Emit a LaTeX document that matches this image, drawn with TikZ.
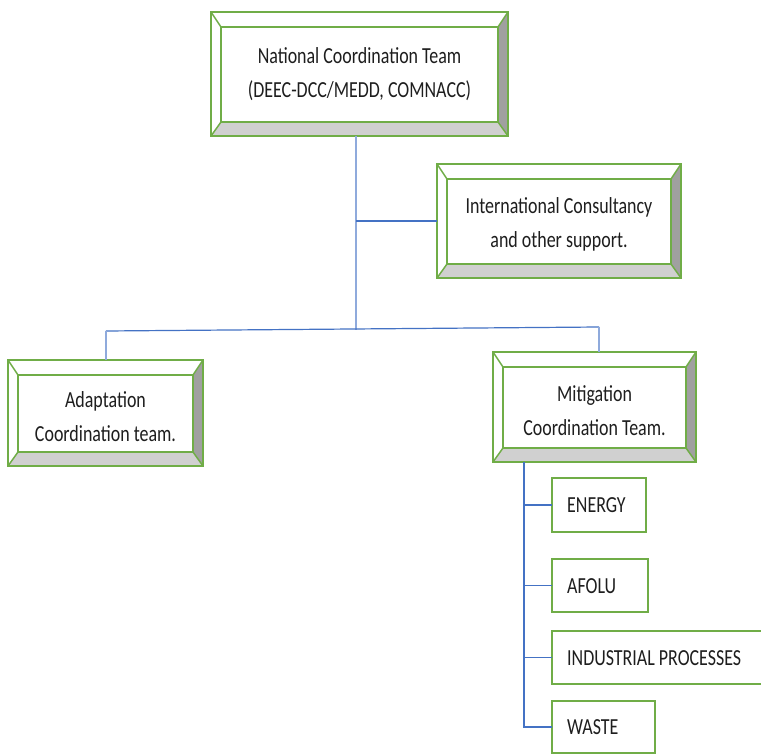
\documentclass[tikz,border=0pt]{standalone}
\usepackage{fontspec}
\setmainfont{Carlito}[FakeStretch=0.78]
\usetikzlibrary{calc}
\definecolor{gr}{HTML}{70AD47}
\definecolor{bl}{HTML}{4472C4}
\definecolor{lbl}{HTML}{8FAADC}
\definecolor{bevR}{HTML}{A0A0A0}
\definecolor{bevB}{HTML}{D0D0D0}
\definecolor{txt}{HTML}{1E1E1E}
\tikzset{
  outerbox/.style={draw=gr, line width=2pt, fill=white, inner sep=0pt, outer sep=0pt, anchor=north west},
  boxtext/.style={inner sep=0pt, align=center, text=txt, font=\fontsize{23}{34}\selectfont},
  subbox/.style={draw=gr, line width=1.6pt, fill=white, inner sep=0pt, outer sep=0pt, anchor=north west},
  subtext/.style={inner sep=0pt, anchor=west, text=txt, text height=15pt, text depth=0pt, font=\fontsize{23}{28}\selectfont},
  lightline/.style={draw=lbl, line width=1.3pt},
  darkline/.style={draw=bl, line width=1.2pt},
  innerline/.style={draw=gr, line width=1.5pt}
}
\newcommand\bevelbox[7]{%
  \node[outerbox, minimum width={(#4-#2)*1pt}, minimum height={(#5-#3)*1pt}] (#1) at (#2,#3) {};
  \fill[bevR] (#1.north east) -- ++(-10,15) -- ($(#1.south east)+(-10,-14)$) -- (#1.south east) -- cycle;
  \fill[bevB] (#1.south west) -- ($(#1.south west)+(10,-14)$) -- ($(#1.south east)+(-10,-14)$) -- (#1.south east) -- cycle;
  \draw[innerline] ($(#1.north west)+(10,15)$) rectangle ($(#1.south east)+(-10,-14)$);
  \draw[innerline] (#1.north west) -- ++(10,15) (#1.north east) -- ++(-10,15)
     (#1.south west) -- ++(10,-14) (#1.south east) -- ++(-10,-14);
  \draw[gr, line width=2pt] (#1.north west) rectangle (#1.south east);
  \node[boxtext] (#1-t) at ($(#1.center)+(0,#7)$) {#6\vphantom{(}};
}
\begin{document}
\begin{tikzpicture}[x=1pt, y=-1pt]
\useasboundingbox (0,0) rectangle (761,754);
\clip (0,0) rectangle (761,754);
\fill[white] (0,0) rectangle (761,754);

% coordinates for junctions
\coordinate (j1) at (356,330);
\coordinate (jL) at (106,331);
\coordinate (jR) at (599,327);
\coordinate (t) at (524,0);

% boxes
\bevelbox{nat}{211}{12}{508}{136}{National Coordination Team\\(DEEC-DCC/MEDD, COMNACC)}{0}
\bevelbox{intl}{437}{164}{681}{278}{International Consultancy\\and other support.}{3}
\bevelbox{adapt}{8}{360}{203}{466}{Adaptation\\Coordination team.}{5}
\bevelbox{mit}{493}{352}{696}{462}{Mitigation\\Coordination Team.}{5}

\node[subbox, minimum width=94pt, minimum height=54pt] (energy) at (552,478) {};
\node[subtext] (energy-t) at ($(energy.west)+(15,0)$) {ENERGY};
\node[subbox, minimum width=96pt, minimum height=53pt] (afolu) at (552,559) {};
\node[subtext] (afolu-t) at ($(afolu.west)+(15,0)$) {AFOLU};
\node[subbox, minimum width=220pt, minimum height=53pt] (indus) at (552,631) {};
\node[subtext] (indus-t) at ($(indus.west)+(15,0)$) {INDUSTRIAL PROCESSES};
\node[subbox, minimum width=103pt, minimum height=52pt] (waste) at (552,701) {};
\node[subtext] (waste-t) at ($(waste.west)+(15,0)$) {WASTE};

% connectors
\draw[lightline] (j1 |- nat.south) -- (j1);
\draw[darkline] (j1 |- intl.west) -- (intl.west);
\draw[darkline] (jL) -- (jR);
\draw[lightline] (jL) -- (jL |- adapt.north);
\draw[lightline] (jR) -- (jR |- mit.north);
\draw[darkline] (t |- mit.south) -- (t |- waste.west) -- (waste.west);
\draw[darkline] (t |- energy.west) -- (energy.west);
\draw[darkline] (t |- afolu.west) -- (afolu.west);
\draw[darkline] (t |- indus.west) -- (indus.west);
\end{tikzpicture}
\end{document}
